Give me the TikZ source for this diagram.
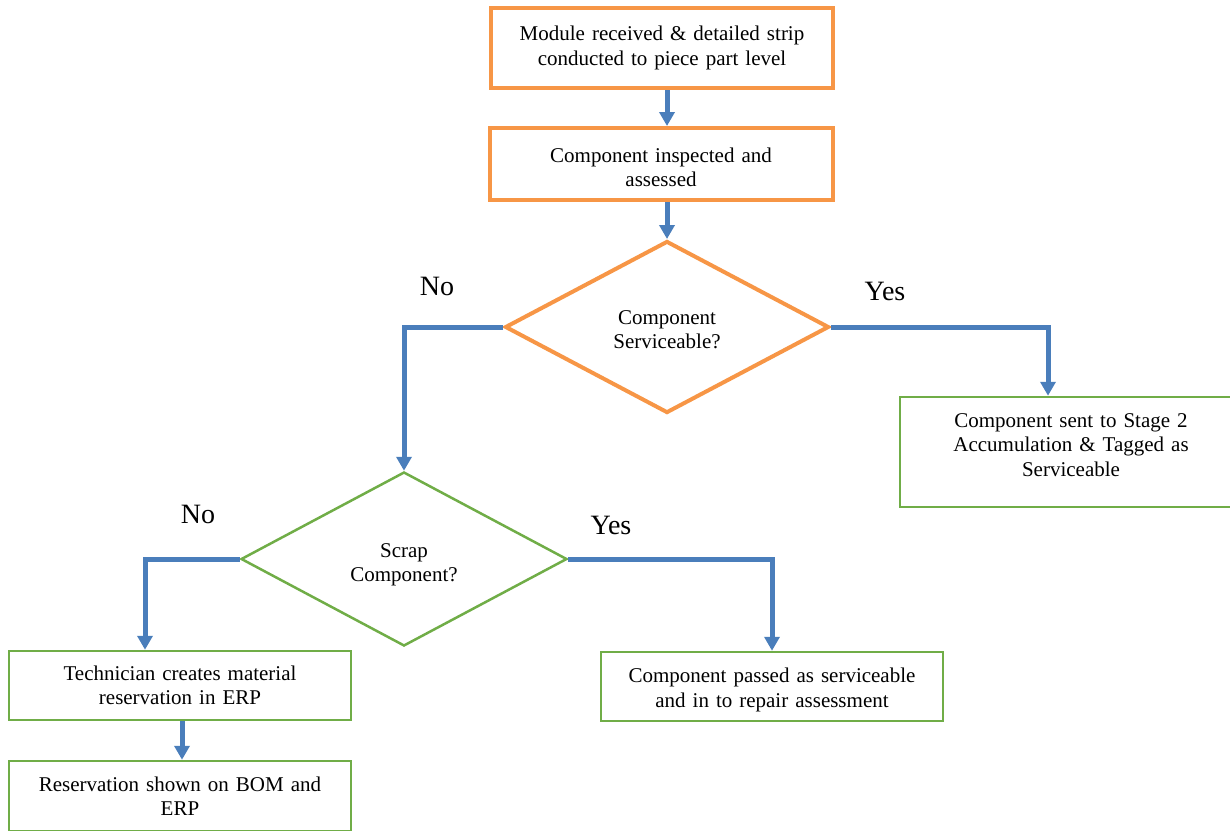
\documentclass[tikz,border=0pt]{standalone}
\usepackage{fontspec}
\setmainfont{Liberation Serif}
\usetikzlibrary{arrows.meta,shapes.geometric}
\definecolor{flowOrange}{HTML}{F79646}
\definecolor{flowGreen}{HTML}{70AD47}
\definecolor{flowBlue}{HTML}{4A7EBB}
% invisible struts that set the vertical balance of a text block
\newcommand{\tallstrut}[1]{\rule{0pt}{#1}}
\newcommand{\deepstrut}[1]{\rule[-#1]{0pt}{0pt}}
\begin{document}
\begin{tikzpicture}[x=1pt,y=-1pt,
  body/.style={font=\fontsize{21}{24.5}\selectfont, align=center},
  obox/.style={body, draw=flowOrange, line width=4pt, fill=white, inner sep=0pt},
  gbox/.style={body, draw=flowGreen, line width=2.5pt, fill=white, inner sep=0pt},
  odec/.style={body, diamond, draw=flowOrange, line width=4pt, inner sep=0pt, aspect=1.9},
  gdec/.style={body, diamond, draw=flowGreen, line width=2.5pt, inner sep=0pt, aspect=1.9},
  flow/.style={draw=flowBlue, line width=5pt, -{Triangle[width=15pt,length=14pt]}},
  answer/.style={font=\fontsize{28}{32}\selectfont}]
\useasboundingbox (0,0) rectangle (1230,830);

% process boxes
\node[obox, minimum width=342pt, minimum height=80pt, text width=320pt] (strip) at (662,48)
  {Module received \& detailed strip\\conducted to piece part level};
\node[obox, minimum width=343pt, minimum height=72pt, text width=320pt] (inspect) at (661,164)
  {\tallstrut{21pt}Component inspected and\\assessed};

% decisions
\node[odec, minimum width=324pt, minimum height=172pt, text width=150pt] (svc) at (667,327)
  {\tallstrut{19pt}Component\\Serviceable?};
\node[gdec, minimum width=326pt, minimum height=174pt, text width=150pt] (scrap) at (404,559)
  {\tallstrut{25pt}Scrap\\Component?};

% outcome boxes
\node[gbox, minimum width=342pt, minimum height=110pt, text width=320pt] (stage) at (1071,452)
  {Component sent to Stage 2\\Accumulation \& Tagged as\\Serviceable\deepstrut{14pt}};
\node[gbox, minimum width=342pt, minimum height=69pt, text width=320pt] (tech) at (180,685.5)
  {Technician creates material\\reservation in ERP};
\node[gbox, minimum width=342pt, minimum height=69pt, text width=320pt] (repair) at (772,686.5)
  {\tallstrut{21pt}Component passed as serviceable\\and in to repair assessment};
\node[gbox, minimum width=342pt, minimum height=70pt, text width=320pt] (bom) at (180,796)
  {Reservation shown on BOM and\\ERP};

% branch labels
\node[answer] (noA) at (437,286) {No};
\node[answer] (yesA) at (885,291) {Yes};
\node[answer] (noB) at (198,514) {No};
\node[answer] (yesB) at (611,525) {Yes};

% connectors
\draw[flow] (strip.south -| svc.north) -- (inspect.north -| svc.north);
\draw[flow] (inspect.south -| svc.north) -- (svc.north);
\draw[flow] (svc.west) -| (scrap.north);
\draw[flow] (svc.east) -| ([xshift=-23pt]stage.north);
\draw[flow] (scrap.west) -| ([xshift=-35pt]tech.north);
\draw[flow] (scrap.east) -| (repair.north);
\draw[flow] ([xshift=2pt]tech.south) -- ([xshift=2pt]bom.north);
\end{tikzpicture}
\end{document}
